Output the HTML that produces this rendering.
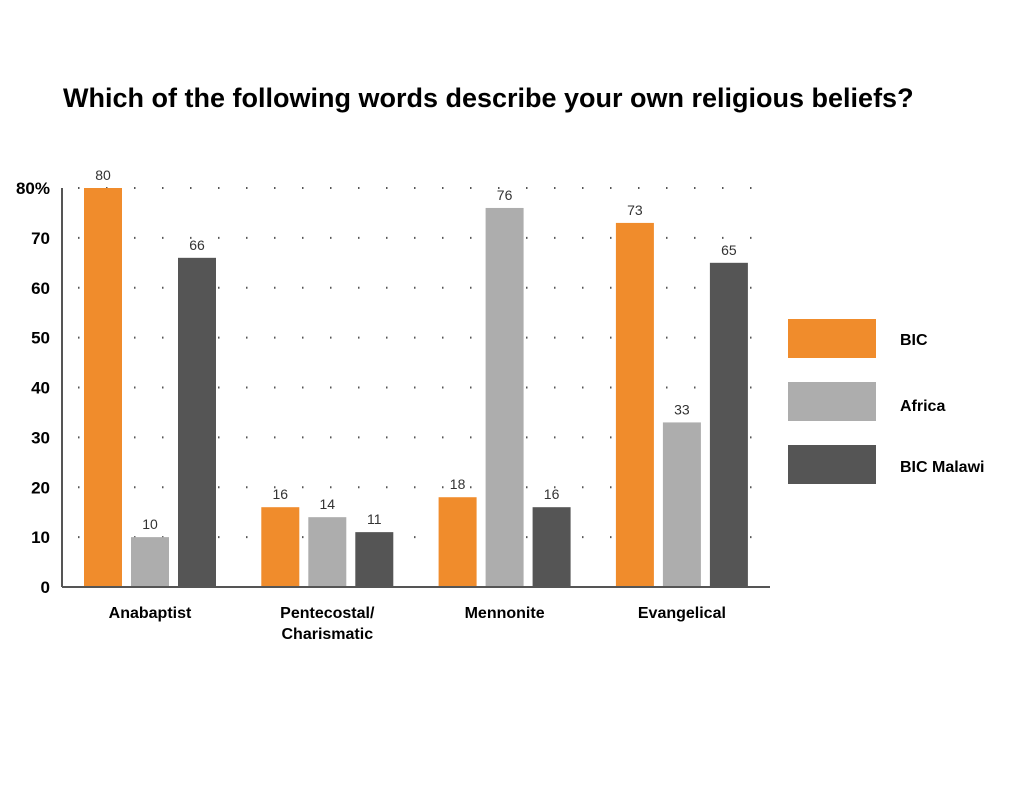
<!DOCTYPE html>
<html><head><meta charset="utf-8"><style>
body{margin:0;background:#fff;width:1024px;height:791px;overflow:hidden;font-family:"Liberation Sans",sans-serif}
</style></head><body>
<svg id="chart" width="1024" height="791" xmlns="http://www.w3.org/2000/svg">
<text x="63" y="107" font-size="27" font-weight="bold" fill="#000">Which of the following words describe your own religious beliefs?</text>
<g id="grid"></g><g id="bars"></g><g id="axes"></g>
<g>
<rect x="788" y="319" width="88" height="39" fill="#f08c2c"/>
<text x="900" y="345" font-size="16" font-weight="bold">BIC</text>
<rect x="788" y="382" width="88" height="39" fill="#adadad"/>
<text x="900" y="411" font-size="16" font-weight="bold">Africa</text>
<rect x="788" y="445" width="88" height="39" fill="#555555"/>
<text x="900" y="472" font-size="16" font-weight="bold">BIC Malawi</text>
</g>
</svg>
<script>
const categories=[["Anabaptist"],["Pentecostal/","Charismatic"],["Mennonite"],["Evangelical"]];
const bicValues=[80,16,18,73];
const africaValues=[10,14,76,33];
const malawiValues=[66,11,16,65];
const yTicks=[0,10,20,30,40,50,60,70,80];
const yTickLabels=["0","10","20","30","40","50","60","70","80%"];
const NS="http://www.w3.org/2000/svg";
const x0=62,x1=770,yBase=587,yTop=188;
function y(v){return yBase-(v/80)*(yBase-yTop);}
function groupX(i){return 84+i*177.3;}
function mk(tag,attrs,parent,txt){const e=document.createElementNS(NS,tag);for(const k in attrs)e.setAttribute(k,attrs[k]);if(txt!==undefined)e.textContent=txt;parent.appendChild(e);return e;}
const grid=document.getElementById('grid'),bars=document.getElementById('bars'),axes=document.getElementById('axes');
yTicks.forEach((t,i)=>{
  if(t>0){const g=mk('line',{x1:78,x2:770,y1:y(t),y2:y(t),stroke:'#555','stroke-width':2,'stroke-dasharray':'1.5 26.5'},grid);
  
  }
  const l=mk('text',{x:50,y:y(t)+6,'text-anchor':'end','font-size':17,'font-weight':'bold'},axes,yTickLabels[i]);
  
  
});
const series=[[bicValues,'#f08c2c','bic'],[africaValues,'#adadad','africa'],[malawiValues,'#555555','bic-malawi']];
categories.forEach((c,i)=>{
  series.forEach((s,j)=>{
    const bx=groupX(i)+j*47,v=s[0][i];
    const r=mk('rect',{x:bx,y:y(v),width:38,height:yBase-y(v),fill:s[1]},bars);
    
    
    const t=mk('text',{x:bx+19,y:y(v)-8,'text-anchor':'middle','font-size':14,fill:'#333'},bars,String(v));
    
    
  });
  c.forEach((line,k)=>{
    const t=mk('text',{x:groupX(i)+66,y:618+k*21,'text-anchor':'middle','font-size':16,'font-weight':'bold'},axes,line);
    
    
  });
});
const ya=mk('line',{x1:x0,x2:x0,y1:yTop,y2:yBase,stroke:'#555','stroke-width':2},axes);


const xa=mk('line',{x1:x0,x2:x1,y1:yBase,y2:yBase,stroke:'#555','stroke-width':2},axes);


</script>
</body></html>
